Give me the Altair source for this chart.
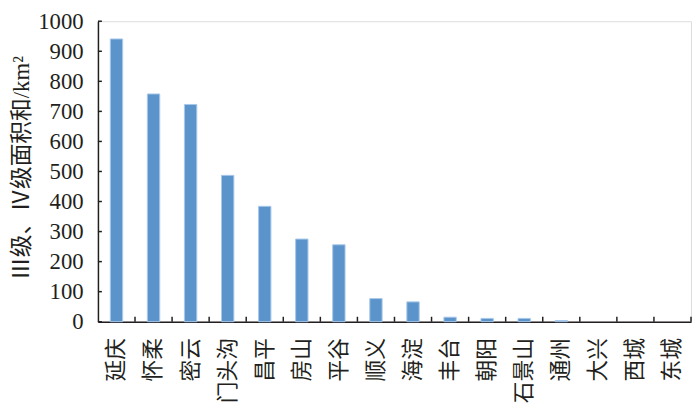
import altair as alt
import pandas as pd

districts = ["延庆", "怀柔", "密云", "门头沟", "昌平", "房山", "平谷", "顺义",
             "海淀", "丰台", "朝阳", "石景山", "通州", "大兴", "西城", "东城"]
areas = [941, 758, 723, 487, 384, 275, 256, 77, 66, 15, 11, 11, 4, 0, 0, 0]
y_ticks = [0, 100, 200, 300, 400, 500, 600, 700, 800, 900, 1000]

df = pd.DataFrame({"district": districts, "area": areas})
tick_df = pd.DataFrame({"v": y_ticks})

W, H = 600, 304
AXIS = "#231f20"
SERIF = "'Liberation Serif', 'Times New Roman', 'DejaVu Serif', serif"

xscale = alt.Scale(paddingInner=0, paddingOuter=0)
yscale = alt.Scale(domain=[0, 1000])

xaxis = alt.Axis(title=None, labelAngle=270, labelFont="Noto Sans CJK SC",
                 labelFontSize=22, labelColor="#231f20", labelPadding=16,
                 ticks=False, domainColor=AXIS, domainWidth=1.5,
                 labelBound=False, labelOverlap=False)
yaxis = alt.Axis(title="Ⅲ级、Ⅳ级面积和/km²", values=y_ticks, format="d",
                 labelFont=SERIF, labelFontSize=23,
                 labelColor="#231f20", labelPadding=15, ticks=False,
                 labelOverlap=False, labelBound=False,
                 domainColor=AXIS, domainWidth=1.5, grid=False,
                 titleFont="'Liberation Serif', 'Noto Sans CJK SC'", titleFontSize=23,
                 titleFontWeight="normal", titleColor="#231f20",
                 titleAngle=270, titleAlign="center", titleBaseline="middle",
                 titleX=-77, titleY=H / 2 - 4)

bars = alt.Chart(df).mark_bar(
    width=12.5, color="#5b94ca", strokeWidth=1
).encode(
    x=alt.X("district:N", sort=districts, scale=xscale, axis=xaxis),
    y=alt.Y("area:Q", scale=yscale, axis=yaxis),
    stroke=alt.condition(alt.datum.area > 0, alt.value("#a8c8ea"), alt.value("transparent")),
)

xticks = alt.Chart(df).mark_rule(color=AXIS, strokeWidth=1.5).encode(
    x=alt.X("district:N", sort=districts, scale=xscale, axis=xaxis, bandPosition=1),
    y=alt.value(H - 5),
    y2=alt.value(H),
)

yticks = alt.Chart(tick_df).mark_rule(color=AXIS, strokeWidth=1.5).encode(
    y=alt.Y("v:Q", scale=yscale, axis=yaxis),
    x=alt.value(0),
    x2=alt.value(4),
)

chart = alt.layer(bars, xticks, yticks).properties(
    width=W, height=H,
    autosize=alt.AutoSizeParams(type="none"),
    padding={"left": 91, "top": 11, "right": 1, "bottom": 92},
).configure_view(stroke=None).configure(background="white")

chart.save("out.html", embed_options={"renderer": "svg", "actions": False})
